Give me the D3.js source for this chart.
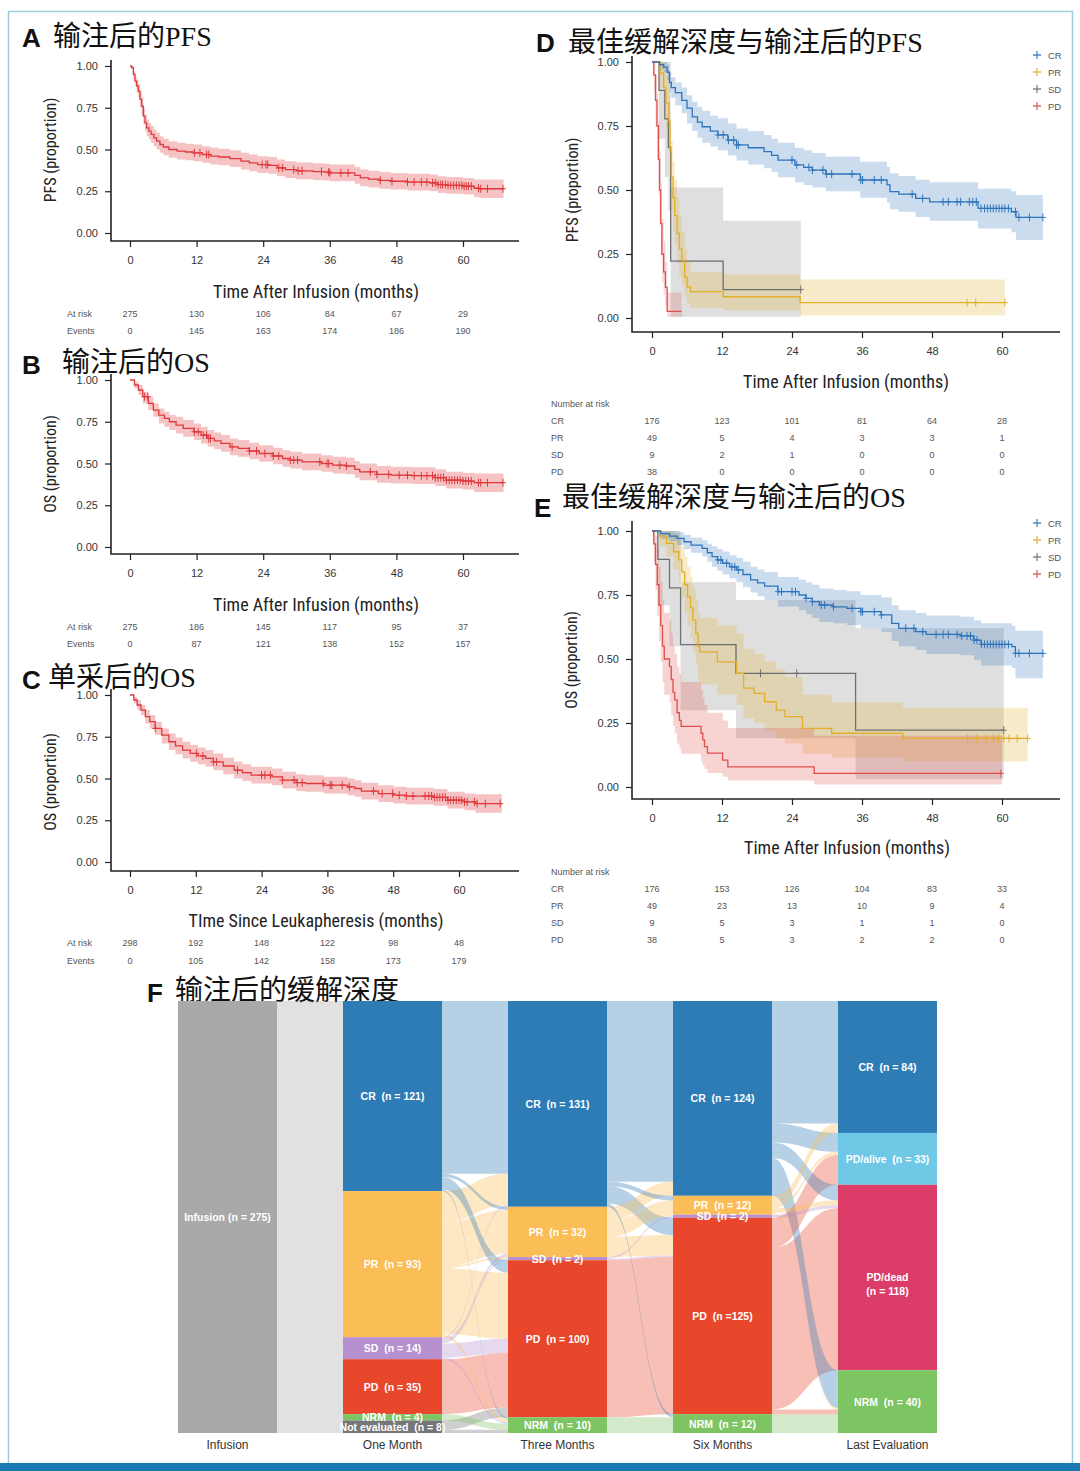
<!DOCTYPE html>
<html>
<head>
<meta charset="utf-8">
<script src="https://cdn.jsdelivr.net/npm/d3@7"></script>
<style>
  body { margin: 0; background: #fff; }
  svg { display: block; }
  text { font-family: "Liberation Sans", Arial, sans-serif; }
</style>
</head>
<body>
<svg id="fig" width="1080" height="1471"></svg>
<script>
// ---------- KM data: [month, survival, lower CI, upper CI] ----------
var months = [0, 12, 24, 36, 48, 60];
var yTicks = [0, 0.25, 0.5, 0.75, 1];

var pfsAll = [[0,1,1,1],[0.3,0.99,0.98,1],[0.6,0.95,0.92,0.97],[0.9,0.91,0.88,0.94],[1.2,0.88,0.84,0.92],
  [1.5,0.85,0.81,0.89],[1.8,0.80,0.75,0.85],[2.1,0.76,0.71,0.81],[2.4,0.70,0.65,0.75],[2.7,0.66,0.61,0.71],
  [3.0,0.63,0.58,0.68],[3.4,0.61,0.56,0.66],[3.8,0.59,0.54,0.64],[4.3,0.57,0.52,0.62],[4.8,0.55,0.50,0.60],
  [5.4,0.53,0.48,0.58],[6.0,0.515,0.465,0.565],[7.0,0.50,0.45,0.55],[8.5,0.49,0.44,0.54],[10,0.485,0.435,0.535],
  [11.5,0.48,0.43,0.53],[13,0.47,0.42,0.52],[14.5,0.46,0.41,0.51],[16,0.455,0.405,0.505],[18,0.445,0.395,0.495],
  [20,0.43,0.38,0.48],[21.5,0.42,0.37,0.47],[23,0.41,0.36,0.46],[25,0.405,0.355,0.455],[26.5,0.39,0.34,0.44],
  [28,0.38,0.33,0.43],[30,0.372,0.322,0.422],[33,0.368,0.318,0.418],[35,0.365,0.315,0.415],[36,0.36,0.31,0.41],
  [40.5,0.345,0.295,0.395],[41.5,0.33,0.28,0.38],[43,0.323,0.273,0.373],[45,0.315,0.265,0.365],[47,0.31,0.26,0.36],
  [50,0.305,0.255,0.355],[54,0.30,0.25,0.35],[55.5,0.29,0.24,0.34],[57,0.285,0.235,0.335],[60,0.28,0.23,0.33],
  [62,0.268,0.215,0.32],[63,0.265,0.21,0.32]];
var pfsAllEnd = 67.3;
var pfsAllCens = [11.6,12.6,13.8,14.2,23.8,24.5,24.8,26.8,27.5,29.5,30.3,31,34.5,35.8,36,38,39.3,45.1,47.2,50,51.2,
  52.5,53.5,54.5,55,55.5,56,56.3,56.8,57.3,57.8,58.3,58.8,59.3,59.8,60.2,60.6,61,61.5,62.8,63.2,64.4,67.2];
var pfsRisk = [275, 130, 106, 84, 67, 29];
var pfsEvents = [0, 145, 163, 174, 186, 190];

var osInf = [[0,1,1,1],[0.8,0.97,0.95,0.99],[1.5,0.94,0.91,0.97],[2.3,0.90,0.86,0.93],[3.3,0.86,0.82,0.90],
  [4.2,0.82,0.78,0.86],[5.2,0.79,0.74,0.83],[6.2,0.77,0.72,0.81],[7.1,0.75,0.70,0.79],[8.3,0.73,0.68,0.78],
  [9.6,0.71,0.66,0.76],[11.5,0.69,0.64,0.74],[12.8,0.67,0.62,0.72],[14,0.65,0.60,0.70],[15.2,0.635,0.585,0.685],
  [16.4,0.62,0.57,0.67],[18,0.60,0.55,0.65],[19.5,0.59,0.54,0.64],[21.5,0.575,0.525,0.625],[23.3,0.56,0.51,0.61],
  [25.8,0.545,0.495,0.595],[27.5,0.53,0.48,0.58],[28.9,0.52,0.47,0.57],[31,0.51,0.46,0.56],[34.5,0.50,0.45,0.55],
  [36.5,0.49,0.44,0.54],[38.9,0.485,0.435,0.535],[40.5,0.465,0.415,0.515],[41.4,0.45,0.40,0.50],
  [44.5,0.435,0.385,0.485],[47,0.43,0.38,0.48],[50.7,0.427,0.377,0.477],[55,0.415,0.365,0.465],[57,0.40,0.35,0.45],
  [60,0.395,0.345,0.445],[62,0.385,0.33,0.44]];
var osInfEnd = 67.3;
var osInfCens = [2.6,3.2,11.6,12.3,13.2,13.8,14.2,14.5,18.4,21.5,22.8,24.3,25.8,26.8,28.9,29.5,30.2,34.2,35.5,35.8,
  37.8,39,43.3,44.5,46.6,48.5,50,51.2,52.5,53.5,54.5,55,55.5,56,56.5,57,57.5,58,58.5,59,59.5,60,60.5,61,61.5,
  62.8,63.2,64.4,67.2];
var osInfRisk = [275, 186, 145, 117, 95, 37];
var osInfEvents = [0, 87, 121, 138, 152, 157];

var osLeuk = [[0,1,1,1],[0.7,0.97,0.95,0.99],[1.3,0.94,0.91,0.97],[2.0,0.91,0.88,0.94],[2.8,0.87,0.83,0.91],
  [3.6,0.84,0.80,0.88],[4.6,0.80,0.76,0.84],[5.8,0.76,0.71,0.80],[7.1,0.72,0.67,0.77],[8.3,0.695,0.645,0.745],
  [9.6,0.67,0.62,0.72],[11,0.65,0.60,0.70],[12.4,0.635,0.585,0.685],[13.8,0.62,0.57,0.67],[15.2,0.60,0.55,0.65],
  [17,0.575,0.525,0.625],[19,0.55,0.50,0.60],[20.5,0.535,0.485,0.585],[22.1,0.52,0.47,0.57],[25.9,0.51,0.46,0.56],
  [27.8,0.49,0.44,0.54],[30.3,0.475,0.425,0.525],[32,0.47,0.42,0.52],[35.3,0.46,0.41,0.51],[39.7,0.45,0.40,0.50],
  [41,0.44,0.39,0.49],[42.2,0.425,0.375,0.475],[45.3,0.41,0.36,0.46],[48,0.40,0.35,0.45],[50.4,0.395,0.345,0.445],
  [55.4,0.387,0.337,0.437],[57.9,0.37,0.32,0.42],[61,0.36,0.31,0.41],[63,0.35,0.295,0.405]];
var osLeukEnd = 67.8;
var osLeukCens = [4.6,12.1,13.3,15.2,15.8,19.6,24,24.6,25.6,27.8,29.9,30.5,31.4,35.2,36.5,36.8,38.7,40,44.4,46,47.9,
  49.1,50.4,51.6,53.8,54.5,55,55.5,56,56.5,57,57.5,58,58.5,59,59.5,60,60.5,61,61.5,62.8,63.3,64.8,67.5];
var osLeukRisk = [298, 192, 148, 122, 98, 48];
var osLeukEvents = [0, 105, 142, 158, 173, 179];

// ---------- by best response ----------
var groups = ['CR', 'PR', 'SD', 'PD'];
var groupColors = ['#2f74bb', '#e2ae2c', '#6f6f6f', '#de4f4c'];

var pfsCR = [[0,1,1,1],[1.3,0.99,0.97,1],[2.0,0.98,0.96,1],[2.6,0.96,0.93,0.99],[3.0,0.92,0.88,0.96],
  [3.3,0.90,0.86,0.94],[4.0,0.88,0.83,0.92],[5.1,0.85,0.80,0.90],[6.0,0.82,0.76,0.87],[6.9,0.786,0.73,0.845],
  [7.8,0.765,0.705,0.825],[8.6,0.747,0.685,0.81],[10,0.73,0.67,0.79],[11.3,0.715,0.655,0.78],[13,0.695,0.635,0.76],
  [14.5,0.676,0.615,0.74],[16.5,0.665,0.60,0.73],[19.2,0.65,0.585,0.715],[20.5,0.635,0.57,0.70],
  [21.6,0.617,0.55,0.685],[24.5,0.598,0.53,0.665],[26,0.588,0.52,0.655],[27.5,0.578,0.51,0.645],
  [29.8,0.5625,0.495,0.63],[35.7,0.539,0.47,0.61],[40.3,0.52,0.45,0.59],[40.8,0.494,0.425,0.565],
  [42.3,0.484,0.415,0.555],[45.2,0.467,0.395,0.54],[47.6,0.454,0.38,0.53],[55.9,0.428,0.35,0.505],
  [61.6,0.415,0.335,0.495],[62.4,0.393,0.305,0.48]];
var pfsPR = [[0,1,1,1],[1.4,0.956,0.90,1],[2.0,0.90,0.82,0.97],[2.4,0.84,0.74,0.94],[2.9,0.77,0.65,0.88],
  [3.1,0.65,0.52,0.78],[3.3,0.55,0.42,0.69],[3.6,0.47,0.34,0.61],[3.9,0.40,0.28,0.54],[4.3,0.33,0.21,0.47],
  [4.7,0.27,0.16,0.40],[5.1,0.226,0.13,0.34],[5.6,0.16,0.08,0.27],[6.0,0.122,0.055,0.22],[6.6,0.103,0.04,0.18],
  [12.2,0.083,0.03,0.17],[25.4,0.06,0.01,0.15]];
var pfsSD = [[0,1,1,1],[1.2,0.889,0.70,1],[2.2,0.778,0.55,1],[2.8,0.667,0.42,1],[3.2,0.222,0.005,0.51],
  [12.2,0.111,0.005,0.38]];
var pfsPD = [[0,1,1,1],[0.3,0.95,0.88,1],[0.6,0.85,0.75,0.95],[0.85,0.75,0.62,0.88],[1.1,0.62,0.48,0.77],
  [1.3,0.50,0.36,0.66],[1.5,0.37,0.24,0.53],[1.7,0.25,0.14,0.39],[2.0,0.18,0.09,0.30],[2.3,0.12,0.05,0.22],
  [2.6,0.026,0.004,0.10]];
var pfsGroupEnd = [67, 60.5, 25.5, 5.1];
var pfsGroupCens = [
  [11.3,12.2,13.1,14,14.5,14.8,24,24.8,26.9,27.5,29.3,29.9,30.8,34.3,35.8,36.1,38.1,39.3,44.6,46.4,49.9,50.8,52.3,
   52.9,54.4,55,55.6,56.4,57,57.5,58,58.5,59,59.5,60,60.5,61.1,62.3,62.9,64.7,67],
  [54, 55.5, 60.5],
  [25.5],
  []];
var pfsGroupRisk = [[176,123,101,81,64,28],[49,5,4,3,3,1],[9,2,1,0,0,0],[38,0,0,0,0,0]];

var osCR = [[0,1,1,1],[1.5,0.99,0.97,1],[3.0,0.98,0.96,1],[4.3,0.971,0.945,0.995],[5.5,0.958,0.93,0.985],
  [6.7,0.945,0.915,0.975],[8.6,0.932,0.90,0.965],[9.5,0.915,0.88,0.95],[10.3,0.90,0.86,0.94],[11.2,0.887,0.845,0.93],
  [12.1,0.874,0.83,0.92],[13.3,0.86,0.815,0.905],[14.5,0.848,0.80,0.895],[15.6,0.83,0.78,0.88],[16.9,0.809,0.76,0.86],
  [18.1,0.797,0.745,0.85],[19.3,0.785,0.73,0.84],[21.6,0.763,0.705,0.82],[25.2,0.75,0.69,0.81],[26.4,0.737,0.675,0.80],
  [27.5,0.724,0.66,0.79],[28.7,0.711,0.645,0.775],[31.1,0.704,0.64,0.77],[33.4,0.698,0.633,0.765],
  [35.8,0.685,0.62,0.75],[39.3,0.672,0.605,0.74],[41.1,0.639,0.57,0.71],[42.3,0.62,0.55,0.69],[45.2,0.607,0.535,0.68],
  [47,0.596,0.52,0.67],[52.9,0.59,0.515,0.665],[55.2,0.574,0.495,0.65],[56.4,0.557,0.475,0.64],
  [61.7,0.548,0.465,0.63],[62.3,0.522,0.425,0.61]];
var osPR = [[0,1,1,1],[1.3,0.98,0.94,1],[2.5,0.952,0.90,1],[3.7,0.919,0.85,0.99],[4.6,0.887,0.80,0.97],
  [5.1,0.84,0.74,0.94],[5.6,0.79,0.68,0.90],[6.1,0.743,0.63,0.86],[6.6,0.70,0.58,0.82],[7.0,0.652,0.53,0.78],
  [7.5,0.60,0.48,0.73],[7.9,0.548,0.42,0.68],[8.2,0.528,0.40,0.66],[11.2,0.489,0.36,0.63],[14.5,0.444,0.32,0.60],
  [15.7,0.386,0.27,0.54],[17.5,0.366,0.25,0.52],[19.3,0.333,0.22,0.49],[21.3,0.30,0.19,0.46],[22.8,0.275,0.17,0.43],
  [25.8,0.229,0.13,0.36],[30.8,0.21,0.115,0.33],[43,0.19,0.10,0.31]];
var osSD = [[0,1,1,1],[1.0,0.889,0.71,1],[3.0,0.778,0.55,1],[4.9,0.556,0.30,0.80],[14.4,0.444,0.19,0.73],
  [34.9,0.222,0.03,0.62]];
var osPD = [[0,1,1,1],[0.3,0.95,0.88,1],[0.6,0.87,0.77,0.98],[0.9,0.79,0.67,0.93],[1.2,0.71,0.57,0.86],
  [1.5,0.63,0.49,0.80],[1.8,0.55,0.41,0.73],[2.1,0.50,0.36,0.68],[3.0,0.47,0.33,0.65],[3.3,0.42,0.28,0.60],
  [3.6,0.37,0.24,0.55],[3.9,0.34,0.21,0.52],[4.3,0.29,0.17,0.47],[4.7,0.26,0.15,0.44],[5.0,0.237,0.13,0.41],
  [8.4,0.21,0.10,0.38],[8.7,0.184,0.085,0.35],[9.0,0.158,0.07,0.32],[9.5,0.132,0.055,0.29],[12.1,0.105,0.04,0.26],
  [13.0,0.079,0.025,0.23],[27.8,0.053,0.01,0.20]];
var osGroupEnd = [67, 64.4, 60.3, 60];
var osGroupCens = [
  [11.3,11.8,12.8,13.7,14.2,14.8,21.6,22.2,24,24.6,26.4,27.5,29,29.6,31.1,34.3,35.8,36.1,38.1,39.3,43.5,44.9,46.4,
   48.7,49.9,50.8,52.3,53.1,54,54.6,55.2,55.7,56.5,57,57.5,58,58.5,59,59.5,60,60.5,61.1,62.3,62.9,64.7,67],
  [54.1,55.6,57.3,58.5,59.4,60.3,61.2,62.6,64.4],
  [18.6,24.8,60.3],
  [59.8]];
var osGroupRisk = [[176,153,126,104,83,33],[49,23,13,10,9,4],[9,5,3,1,1,0],[38,5,3,2,2,0]];

// ---------- Sankey data ----------
var stageNames = ['Infusion', 'One Month', 'Three Months', 'Six Months', 'Last Evaluation'];
var infusionNodes = [['Infusion', 275, 'Infusion (n = 275)']];
var month1Nodes = [['CR', 121, 'CR  (n = 121)'], ['PR', 93, 'PR  (n = 93)'], ['SD', 14, 'SD  (n = 14)'],
  ['PD', 35, 'PD  (n = 35)'], ['NRM', 4, 'NRM  (n = 4)'], ['Not evaluated', 8, 'Not evaluated  (n = 8)']];
var month3Nodes = [['CR', 131, 'CR  (n = 131)'], ['PR', 32, 'PR  (n = 32)'], ['SD', 2, 'SD  (n = 2)'],
  ['PD', 100, 'PD  (n = 100)'], ['NRM', 10, 'NRM  (n = 10)']];
var month6Nodes = [['CR', 124, 'CR  (n = 124)'], ['PR', 12, 'PR  (n = 12)'], ['SD', 2, 'SD  (n = 2)'],
  ['PD', 125, 'PD  (n =125)'], ['NRM', 12, 'NRM  (n = 12)']];
var lastNodes = [['CR', 84, 'CR  (n = 84)'], ['PD/alive', 33, 'PD/alive  (n = 33)'],
  ['PD/dead', 118, 'PD/dead|(n = 118)'], ['NRM', 40, 'NRM  (n = 40)']];

var linksInf = [['Infusion','CR',121],['Infusion','PR',93],['Infusion','SD',14],['Infusion','PD',35],
  ['Infusion','NRM',4],['Infusion','Not evaluated',8]];
var links1to3 = [['CR','CR',110],['CR','PR',2],['CR','PD',8],['CR','NRM',1],['PR','CR',20],['PR','PR',28],
  ['PR','SD',1],['PR','PD',42],['PR','NRM',2],['SD','CR',1],['SD','PR',2],['SD','SD',1],['SD','PD',9],['SD','NRM',1],
  ['PD','PD',35],['NRM','NRM',4],['Not evaluated','PD',6],['Not evaluated','NRM',2]];
var links3to6 = [['CR','CR',115],['CR','PR',3],['CR','PD',11],['CR','NRM',2],['PR','CR',9],['PR','PR',9],
  ['PR','SD',1],['PR','PD',13],['SD','SD',1],['SD','PD',1],['PD','PD',100],['NRM','NRM',10]];
var links6toL = [['CR','CR',78],['CR','PD/alive',12],['CR','PD/dead',10],['CR','NRM',24],['PR','CR',6],
  ['PR','PD/alive',2],['PR','PD/dead',3],['PR','NRM',1],['SD','PD/dead',2],['PD','PD/alive',19],
  ['PD','PD/dead',103],['PD','NRM',3],['NRM','NRM',12]];

var nodeColors = {
  'Infusion': '#a9a9a9', 'CR': '#2e7cb6', 'PR': '#fbbd55', 'SD': '#b690cf', 'PD': '#e9472b',
  'NRM': '#7dc463', 'Not evaluated': '#767676', 'PD/alive': '#6ec8e6', 'PD/dead': '#db3d68'
};

// =====================================================================
var svg = d3.select('#fig');
var narrow = '"Liberation Sans Narrow", "Roboto Condensed", "Liberation Sans", Arial, sans-serif';
var titleFont = '"Liberation Serif", "Noto Sans CJK SC", serif';

// frame
svg.append('rect').attr('x', 8.5).attr('y', 11.5).attr('width', 1064).attr('height', 1462)
  .attr('fill', 'none').attr('stroke', '#9fcbe0').attr('stroke-width', 1.5);
svg.append('rect').attr('x', 0).attr('y', 1463).attr('width', 1080).attr('height', 8).attr('fill', '#1b7ab4');

function panelTitle(letter, lx, ly, txt, tx, ty) {
  svg.append('text').attr('x', lx).attr('y', ly).text(letter)
    .attr('font-size', 26).attr('font-weight', 'bold').attr('fill', '#111');
  svg.append('text').attr('x', tx).attr('y', ty).text(txt)
    .attr('font-size', 28).attr('fill', '#111').style('font-family', titleFont);
}

function stepValue(pts, t) {
  var v = pts[0][1];
  pts.forEach(function(p) { if (p[0] <= t) v = p[1]; });
  return v;
}

function kmPanel(p) {
  var g = svg.append('g');
  var x = d3.scaleLinear().domain([0, 60]).range([p.x0, p.x60]);
  var y = d3.scaleLinear().domain([0, 1]).range([p.yb, p.yt]);

  var band = d3.area().curve(d3.curveStepAfter)
    .x(function(d) { return x(d[0]); })
    .y0(function(d) { return y(d[2]); })
    .y1(function(d) { return y(d[3]); });
  var line = d3.line().curve(d3.curveStepAfter)
    .x(function(d) { return x(d[0]); })
    .y(function(d) { return y(d[1]); });

  function full(c) {
    var last = c.pts[c.pts.length - 1];
    return c.pts.concat([[c.end, last[1], last[2], last[3]]]);
  }

  p.curves.forEach(function(c) {
    g.append('path').datum(full(c)).attr('d', band)
      .attr('fill', c.color).attr('fill-opacity', c.bandOpacity || 0.28).attr('stroke', 'none');
  });
  p.curves.forEach(function(c) {
    g.append('path').datum(full(c)).attr('d', line)
      .attr('fill', 'none').attr('stroke', c.color).attr('stroke-width', 1.3);
    g.append('path')
      .attr('d', c.cens.map(function(t) {
        var cx = x(t), cy = y(stepValue(c.pts, t));
        return 'M' + cx + ',' + (cy - 4) + 'v8M' + (cx - 3) + ',' + cy + 'h6';
      }).join(''))
      .attr('stroke', c.color).attr('stroke-width', 1).attr('fill', 'none');
  });

  // axes
  var ya = g.append('g').attr('transform', 'translate(' + p.ax + ',0)')
    .call(d3.axisLeft(y).tickValues(yTicks).tickFormat(d3.format('.2f')).tickSize(6).tickPadding(7));
  ya.select('.domain').remove();
  var xa = g.append('g').attr('transform', 'translate(0,' + p.ay + ')')
    .call(d3.axisBottom(x).tickValues(months).tickSize(6).tickPadding(9));
  xa.select('.domain').remove();
  [ya, xa].forEach(function(a) {
    a.attr('color', '#222');
    a.selectAll('.tick line').attr('stroke-width', 1.2);
    a.selectAll('.tick text').attr('font-size', 11).attr('fill', '#333')
      .style('font-family', '"Liberation Sans", Arial, sans-serif');
  });
  g.append('path')
    .attr('d', 'M' + p.ax + ',' + p.axTop + 'V' + p.ay + 'H' + p.axRight)
    .attr('fill', 'none').attr('stroke', '#222').attr('stroke-width', 1.6);

  g.append('text').attr('transform', 'translate(' + p.ytx + ',' + p.yty + ') rotate(-90)')
    .attr('text-anchor', 'middle').attr('font-size', 16).attr('fill', '#222')
    .style('font-family', narrow).text(p.yTitle);
  g.append('text').attr('x', p.xtx).attr('y', p.xty).attr('text-anchor', 'middle')
    .attr('font-size', 18).attr('fill', '#222').style('font-family', narrow).text(p.xTitle);
  return x;
}

function riskRows(x, labels, rows, lx, ys, header) {
  if (header) {
    svg.append('text').attr('x', lx).attr('y', header[1] + 3).text(header[0])
      .attr('font-size', 9).attr('fill', '#555');
  }
  rows.forEach(function(r, i) {
    svg.append('text').attr('x', lx).attr('y', ys[i] + 3).text(labels[i])
      .attr('font-size', 9).attr('fill', '#555');
    svg.selectAll(null).data(r).enter().append('text')
      .attr('x', function(d, j) { return x(months[j]); })
      .attr('y', ys[i] + 3).attr('text-anchor', 'middle')
      .attr('font-size', 9).attr('fill', '#555').text(function(d) { return d; });
  });
}

function legend(x0, ys) {
  groups.forEach(function(gname, i) {
    svg.append('path').attr('d', 'M' + x0 + ',' + (ys[i] - 4) + 'v8M' + (x0 - 4) + ',' + ys[i] + 'h8')
      .attr('stroke', groupColors[i]).attr('stroke-width', 1.3).attr('opacity', 0.85);
    svg.append('text').attr('x', x0 + 11).attr('y', ys[i] + 3.5).text(gname)
      .attr('font-size', 9.5).attr('fill', '#555');
  });
}

var red = '#e0393c';

// ---- Panel A
panelTitle('A', 22, 47, '输注后的PFS', 53, 46);
var xA = kmPanel({ x0: 130, x60: 463, yb: 233, yt: 66, ax: 111, ay: 241, axTop: 60, axRight: 519,
  ytx: 56, yty: 150, xtx: 316, xty: 298, yTitle: 'PFS (proportion)', xTitle: 'Time After Infusion (months)',
  curves: [{ pts: pfsAll, end: pfsAllEnd, cens: pfsAllCens, color: red, bandOpacity: 0.3 }] });
riskRows(xA, ['At risk', 'Events'], [pfsRisk, pfsEvents], 67, [314, 331]);

// ---- Panel B
panelTitle('B', 22, 374, '输注后的OS', 62, 372);
var xB = kmPanel({ x0: 130, x60: 463, yb: 547, yt: 380, ax: 111, ay: 554, axTop: 374, axRight: 519,
  ytx: 56, yty: 464, xtx: 316, xty: 611, yTitle: 'OS (proportion)', xTitle: 'Time After Infusion (months)',
  curves: [{ pts: osInf, end: osInfEnd, cens: osInfCens, color: red, bandOpacity: 0.3 }] });
riskRows(xB, ['At risk', 'Events'], [osInfRisk, osInfEvents], 67, [627, 644]);

// ---- Panel C
panelTitle('C', 22, 689, '单采后的OS', 48, 687);
var xC = kmPanel({ x0: 130, x60: 459, yb: 862, yt: 695, ax: 111, ay: 871, axTop: 689, axRight: 519,
  ytx: 56, yty: 782, xtx: 316, xty: 927, yTitle: 'OS (proportion)', xTitle: 'TIme Since Leukapheresis (months)',
  curves: [{ pts: osLeuk, end: osLeukEnd, cens: osLeukCens, color: red, bandOpacity: 0.3 }] });
riskRows(xC, ['At risk', 'Events'], [osLeukRisk, osLeukEvents], 67, [943, 961]);

// ---- Panel D
panelTitle('D', 536, 52, '最佳缓解深度与输注后的PFS', 568, 52);
var pfsGroups = [pfsCR, pfsPR, pfsSD, pfsPD];
var xD = kmPanel({ x0: 652, x60: 1002, yb: 318, yt: 62, ax: 632, ay: 332, axTop: 56, axRight: 1060,
  ytx: 578, yty: 190, xtx: 846, xty: 388, yTitle: 'PFS (proportion)', xTitle: 'Time After Infusion (months)',
  curves: [2, 1, 3, 0].map(function(i) {
    return { pts: pfsGroups[i], end: pfsGroupEnd[i], cens: pfsGroupCens[i], color: groupColors[i],
      bandOpacity: i === 2 ? 0.22 : (i === 3 ? 0.2 : 0.25) };
  }) });
legend(1037, [55, 72, 89, 106]);
riskRows(xD, groups, pfsGroupRisk, 551, [421, 438, 455, 472], ['Number at risk', 404]);

// ---- Panel E
panelTitle('E', 534, 517, '最佳缓解深度与输注后的OS', 562, 507);
var osGroups = [osCR, osPR, osSD, osPD];
var xE = kmPanel({ x0: 652, x60: 1002, yb: 787, yt: 531, ax: 632, ay: 799, axTop: 521, axRight: 1060,
  ytx: 577, yty: 660, xtx: 847, xty: 854, yTitle: 'OS (proportion)', xTitle: 'Time After Infusion (months)',
  curves: [2, 1, 3, 0].map(function(i) {
    return { pts: osGroups[i], end: osGroupEnd[i], cens: osGroupCens[i], color: groupColors[i],
      bandOpacity: i === 2 ? 0.22 : 0.25 };
  }) });
legend(1037, [523, 540, 557, 574]);
riskRows(xE, groups, osGroupRisk, 551, [889, 906, 923, 940], ['Number at risk', 872]);

// ---- Panel F : Sankey
panelTitle('F', 147, 1002, '输注后的缓解深度', 175, 1000);

var sy = d3.scaleLinear().domain([0, 275]).range([1001, 1433]);
var sx = d3.scalePoint().domain(stageNames).range([178, 838]);
var nodeW = 99;
var stageNodes = [infusionNodes, month1Nodes, month3Nodes, month6Nodes, lastNodes].map(function(list, si) {
  var cum = 0;
  return list.map(function(n, k) {
    var node = { name: n[0], n: n[1], label: n[2], idx: k, x: sx(stageNames[si]),
      y0: sy(cum), y1: sy(cum + n[1]), outOff: 0, inOff: 0 };
    cum += n[1];
    return node;
  });
});

var allLinks = [];
[linksInf, links1to3, links3to6, links6toL].forEach(function(list, si) {
  var src = stageNodes[si], tgt = stageNodes[si + 1];
  var ls = list.map(function(l) {
    return { s: src.find(function(n) { return n.name === l[0]; }),
             t: tgt.find(function(n) { return n.name === l[1]; }), v: l[2] };
  });
  var h = function(v) { return sy(v) - sy(0); };
  ls.slice().sort(function(a, b) { return a.s.idx - b.s.idx || a.t.idx - b.t.idx; }).forEach(function(l) {
    l.sy0 = l.s.y0 + l.s.outOff; l.s.outOff += h(l.v); l.sy1 = l.s.y0 + l.s.outOff;
  });
  ls.slice().sort(function(a, b) { return a.t.idx - b.t.idx || a.s.idx - b.s.idx; }).forEach(function(l) {
    l.ty0 = l.t.y0 + l.t.inOff; l.t.inOff += h(l.v); l.ty1 = l.t.y0 + l.t.inOff;
  });
  allLinks = allLinks.concat(ls);
});

function ribbon(l) {
  var x1 = l.s.x + nodeW, x2 = l.t.x, xm = (x1 + x2) / 2;
  return 'M' + x1 + ',' + l.sy0 + 'C' + xm + ',' + l.sy0 + ' ' + xm + ',' + l.ty0 + ' ' + x2 + ',' + l.ty0 +
    'L' + x2 + ',' + l.ty1 + 'C' + xm + ',' + l.ty1 + ' ' + xm + ',' + l.sy1 + ' ' + x1 + ',' + l.sy1 + 'Z';
}

var sg = svg.append('g');
sg.selectAll('path.link')
  .data(allLinks.slice().sort(function(a, b) { return b.v - a.v; }))
  .enter().append('path').attr('class', 'link')
  .attr('d', ribbon)
  .attr('fill', function(l) { return nodeColors[l.s.name]; })
  .attr('fill-opacity', 0.35)
  .attr('stroke', 'none');

var flatNodes = [].concat.apply([], stageNodes);
sg.selectAll('rect.node').data(flatNodes).enter().append('rect').attr('class', 'node')
  .attr('x', function(d) { return d.x; }).attr('y', function(d) { return d.y0; })
  .attr('width', nodeW).attr('height', function(d) { return d.y1 - d.y0; })
  .attr('fill', function(d) { return nodeColors[d.name]; });

flatNodes.forEach(function(d) {
  var lines = d.label.split('|');
  var cy = (d.y0 + d.y1) / 2 + (lines.length > 1 ? 7 : 0);
  lines.forEach(function(s, k) {
    sg.append('text').attr('x', d.x + nodeW / 2)
      .attr('y', cy + 4 + (k - (lines.length - 1) / 2) * 14)
      .attr('text-anchor', 'middle').attr('font-size', 10.5).attr('font-weight', 'bold')
      .attr('fill', '#fff').style('white-space', 'pre').text(s);
  });
});

sg.selectAll('text.stage').data(stageNames).enter().append('text').attr('class', 'stage')
  .attr('x', function(d) { return sx(d) + nodeW / 2; }).attr('y', 1449)
  .attr('text-anchor', 'middle').attr('font-size', 12).attr('fill', '#333')
  .text(function(d) { return d; });
</script>
</body>
</html>
